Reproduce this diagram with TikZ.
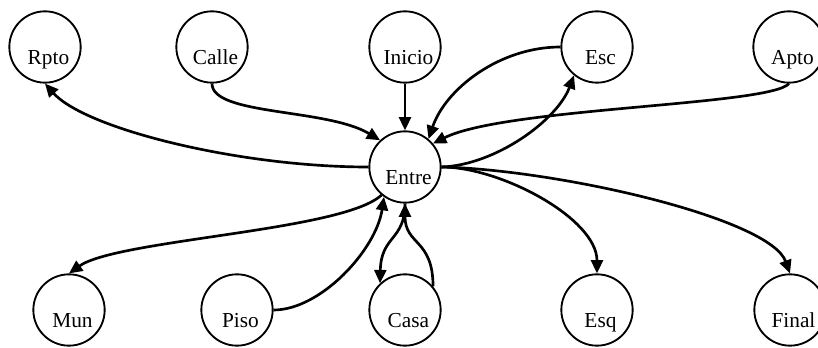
\documentclass[tikz,border=0pt]{standalone}
\usepackage{fontspec}
\setmainfont{Liberation Serif}
\usetikzlibrary{arrows.meta}
\begin{document}
\begin{tikzpicture}[x=0.75pt,y=-0.75pt,
  state/.style={circle, draw, line width=1.4pt, minimum size=53.5pt, inner sep=0pt},
  lbl/.style={anchor=base, inner sep=0pt, font=\fontsize{16pt}{19pt}\selectfont},
  edge/.style={line width=2pt, -{Triangle[length=10pt,width=9pt]}},
]
\useasboundingbox (0,0) rectangle (818,348);

% states
\node[state] (rpto)   at (45,47)  {};
\node[state] (calle)  at (212,47) {};
\node[state] (inicio) at (405,47) {};
\node[state] (esc)    at (597,47) {};
\node[state] (apto)   at (789,47) {};
\node[state] (entre)  at (405,167) {};
\node[state] (mun)    at (69,310) {};
\node[state] (piso)   at (237,310) {};
\node[state] (casa)   at (405,310) {};
\node[state] (esq)    at (597,310) {};
\node[state] (final)  at (790,310) {};

% state names, set a little right of and below each centre
\foreach \n/\t in {rpto/Rpto, calle/Calle, inicio/Inicio, esc/Esc, apto/Apto,
                   entre/Entre, mun/Mun, piso/Piso, casa/Casa, esq/Esq, final/Final}
  \node[lbl] (\n-name) at ([xshift=2.6pt,yshift=-13.1pt]\n.center) {\t};

% transitions
\draw[edge] (entre.west) .. controls +(-130,0) and +(40,45) .. (rpto.south);
\draw[edge] (calle.south) .. controls +(0,32) and +(-53,-32) .. (entre.133);
\draw[edge] (inicio.south) -- (entre.north);
\draw[edge] (esc.west) .. controls +(-61,0) and +(17,-50) .. (entre.50);
\draw[edge] (entre.east) .. controls +(54,-2) and +(-17,45) .. (esc.231);
\draw[edge] (apto.south) .. controls +(-19,22) and +(72,-36) .. (entre.40);
\draw[edge] (entre.230) .. controls +(-38,36) and +(48,-34) .. (mun.north);
\draw[edge] (piso.east) .. controls +(47,0) and +(-8,53) .. (entre.235);
\draw[edge] (entre.south) .. controls +(0,37) and +(1,-48) .. (casa.133);
\draw[edge] (casa.40) .. controls +(0,-48) and +(0,42) .. (entre.south);
\draw[edge] (entre.east) .. controls +(59,0) and +(0,-55) .. (esq.north);
\draw[edge] (entre.east) .. controls +(119,3) and +(-20,-55) .. (final.north);
\end{tikzpicture}
\end{document}
